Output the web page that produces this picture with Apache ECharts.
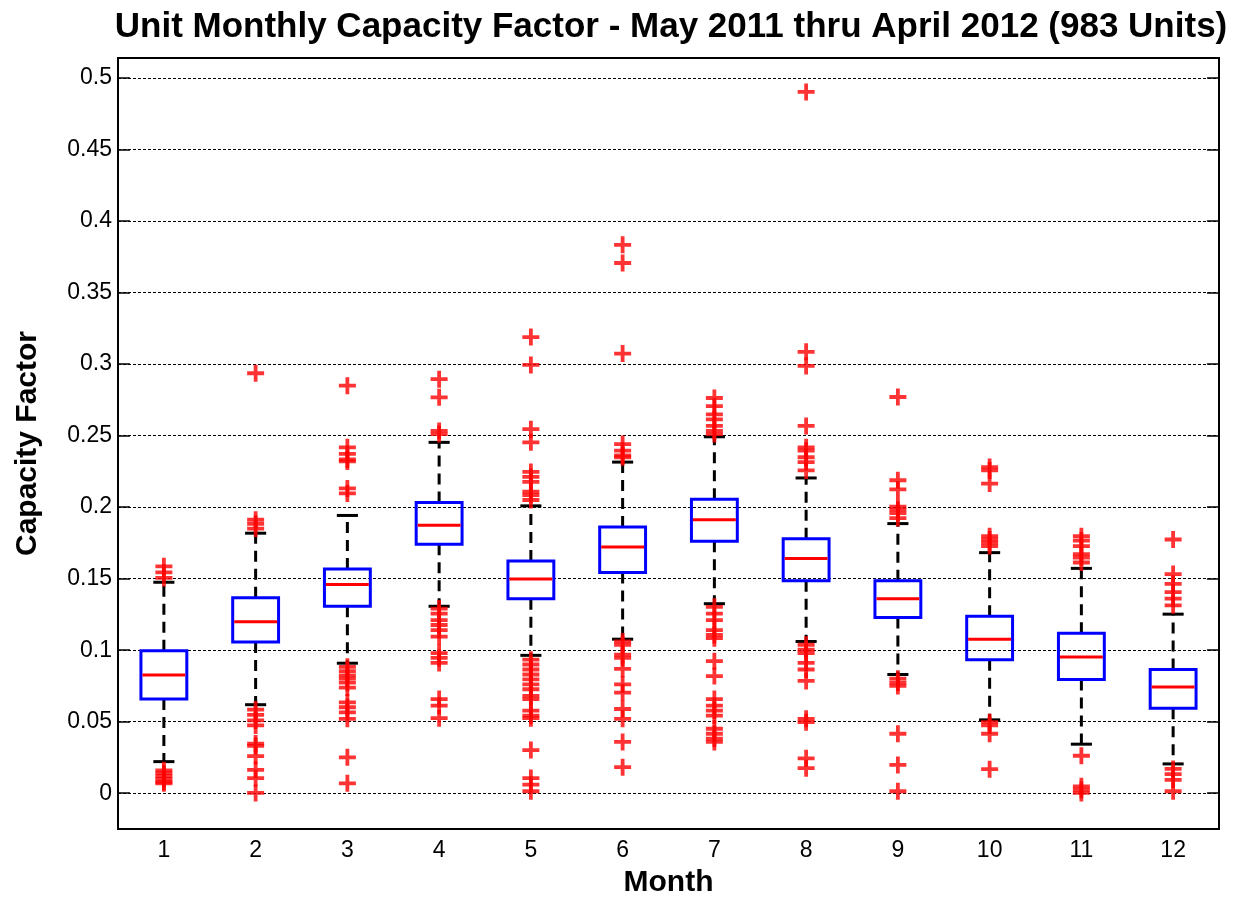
<!DOCTYPE html>
<html>
<head>
<meta charset="utf-8">
<script src="https://cdn.jsdelivr.net/npm/echarts@6/dist/echarts.min.js"></script>
<style>
html,body{margin:0;padding:0;background:#fff;}
#chart{width:1247px;height:903px;}
</style>
</head>
<body>
<div id="chart"></div>
<script>
// ---- data ----
var months = ['1','2','3','4','5','6','7','8','9','10','11','12'];
var lowerWhisker = [0.0221, 0.0619, 0.0909, 0.1307, 0.0964, 0.1077, 0.1325, 0.1061, 0.0830, 0.0513, 0.0343, 0.0205];
var q1           = [0.0658, 0.1058, 0.1307, 0.1740, 0.1360, 0.1544, 0.1762, 0.1486, 0.1229, 0.0934, 0.0796, 0.0594];
var medians      = [0.0826, 0.1199, 0.1459, 0.1873, 0.1498, 0.1721, 0.1912, 0.1641, 0.1360, 0.1077, 0.0953, 0.0743];
var q3           = [0.0996, 0.1367, 0.1567, 0.2032, 0.1624, 0.1862, 0.2055, 0.1779, 0.1486, 0.1238, 0.1118, 0.0865];
var upperWhisker = [0.1475, 0.1818, 0.1942, 0.2453, 0.2009, 0.2315, 0.2492, 0.2204, 0.1885, 0.1682, 0.1572, 0.1252];
var outliers = [
  [0.1586, 0.1544, 0.1505, 0.016, 0.014, 0.012, 0.010, 0.008, 0.007],
  [0.2936, 0.1912, 0.1883, 0.1850, 0.0585, 0.0548, 0.0509, 0.0474, 0.0347, 0.0331, 0.0260, 0.0164, 0.0106, 0.0002],
  [0.2849, 0.2418, 0.2372, 0.2333, 0.2320, 0.2131, 0.2096, 0.0884, 0.0854, 0.0824, 0.0801, 0.0773, 0.0739, 0.0635, 0.0601, 0.0566, 0.0520, 0.0251, 0.0069],
  [0.2895, 0.2768, 0.2533, 0.2511, 0.1291, 0.1256, 0.1210, 0.1176, 0.1141, 0.1095, 0.0980, 0.0946, 0.0911, 0.0658, 0.0612, 0.0525],
  [0.3189, 0.2994, 0.2545, 0.2453, 0.2246, 0.2211, 0.2177, 0.2108, 0.2085, 0.2050, 0.0934, 0.0900, 0.0865, 0.0830, 0.0796, 0.0761, 0.0727, 0.0681, 0.0658, 0.0578, 0.0543, 0.0525, 0.0302, 0.0106, 0.0060, 0.0014],
  [0.3834, 0.3707, 0.3074, 0.2441, 0.2395, 0.2361, 0.2349, 0.1061, 0.1038, 0.0969, 0.0946, 0.0870, 0.0761, 0.0704, 0.0589, 0.0520, 0.0359, 0.0182],
  [0.2763, 0.2706, 0.2649, 0.2614, 0.2568, 0.2533, 0.2511, 0.1303, 0.1256, 0.1210, 0.1141, 0.1107, 0.1084, 0.0923, 0.0819, 0.0658, 0.0612, 0.0578, 0.0543, 0.0451, 0.0416, 0.0382, 0.0359],
  [0.4903, 0.3086, 0.2987, 0.2568, 0.2418, 0.2395, 0.2349, 0.2315, 0.2257, 0.1038, 0.1003, 0.0980, 0.0911, 0.0865, 0.0785, 0.0520, 0.0497, 0.0244, 0.0175],
  [0.2770, 0.2188, 0.2124, 0.2004, 0.1981, 0.1958, 0.1924, 0.0801, 0.0773, 0.0750, 0.0416, 0.0198, 0.0014],
  [0.2280, 0.2257, 0.2165, 0.1797, 0.1774, 0.1751, 0.1728, 0.0497, 0.0474, 0.0416, 0.0168],
  [0.1797, 0.1767, 0.1728, 0.1671, 0.1648, 0.1613, 0.0262, 0.0048, 0.0025, 0.0002],
  [0.1774, 0.1532, 0.1464, 0.1406, 0.1360, 0.1314, 0.0170, 0.0133, 0.0094, 0.0014]
];
var yTicks = ['0','0.05','0.1','0.15','0.2','0.25','0.3','0.35','0.4','0.45','0.5'];

// ---- build series data ----
var boxData = months.map(function (m, i) {
  return [i, lowerWhisker[i], q1[i], medians[i], q3[i], upperWhisker[i]];
});
var outlierData = [];
outliers.forEach(function (arr, i) {
  arr.forEach(function (v) { outlierData.push([i, v]); });
});

var FONT = "'Liberation Sans', Arial, Helvetica, sans-serif";
var plusPath = 'path://M0,6.6H6.6V0H10.4V6.6H17V10.4H10.4V17H6.6V10.4H0Z';

function renderBox(params, api) {
  var idx = api.value(0);
  var lo = api.coord([idx, api.value(1)]);
  var b1 = api.coord([idx, api.value(2)]);
  var md = api.coord([idx, api.value(3)]);
  var b3 = api.coord([idx, api.value(4)]);
  var hi = api.coord([idx, api.value(5)]);
  var band = api.size([1, 0])[0];
  var bw = band * 0.5;
  var cw = band * 0.23;
  var x = lo[0];
  var dash = {stroke: '#000', lineWidth: 3, lineDash: [11, 7]};
  var solidBlack = {stroke: '#000', lineWidth: 3};
  return {
    type: 'group',
    children: [
      {type: 'line', shape: {x1: x, y1: b3[1], x2: x, y2: hi[1]}, style: dash},
      {type: 'line', shape: {x1: x, y1: b1[1], x2: x, y2: lo[1]}, style: dash},
      {type: 'line', shape: {x1: x - cw / 2, y1: hi[1], x2: x + cw / 2, y2: hi[1]}, style: solidBlack},
      {type: 'line', shape: {x1: x - cw / 2, y1: lo[1], x2: x + cw / 2, y2: lo[1]}, style: solidBlack},
      {type: 'rect', shape: {x: x - bw / 2, y: b3[1], width: bw, height: b1[1] - b3[1]},
        style: {fill: 'none', stroke: '#0000FF', lineWidth: 3}},
      {type: 'line', shape: {x1: x - bw / 2 + 1.5, y1: md[1], x2: x + bw / 2 - 1.5, y2: md[1]},
        style: {stroke: '#FF0000', lineWidth: 3}}
    ]
  };
}

var chart = echarts.init(document.getElementById('chart'), null, {renderer: 'canvas'});
var yAxisCommon = {
  type: 'value',
  min: -0.025,
  max: 0.514,
  splitNumber: 10,
  minInterval: 0.05,
  maxInterval: 0.05
};
chart.setOption({
  animation: false,
  backgroundColor: '#fff',
  title: {
    text: 'Unit Monthly Capacity Factor - May 2011 thru April 2012 (983 Units)',
    left: 666,
    textAlign: 'center',
    top: 5,
    textStyle: {fontFamily: FONT, fontSize: 35, fontWeight: 'bold', color: '#000'}
  },
  grid: {
    left: 118, top: 58, width: 1101, height: 780,
    show: true, borderColor: '#000', borderWidth: 2, backgroundColor: 'transparent'
  },
  xAxis: {
    type: 'category',
    data: months,
    boundaryGap: true,
    name: 'Month',
    nameLocation: 'middle',
    nameGap: 39,
    nameTextStyle: {fontFamily: FONT, fontSize: 30, fontWeight: 'bold', color: '#000'},
    axisLine: {show: true, onZero: false, lineStyle: {color: '#000', width: 2}},
    axisTick: {show: false},
    axisLabel: {fontFamily: FONT, fontSize: 23, color: '#000', margin: 10},
    splitLine: {show: false}
  },
  yAxis: [
    Object.assign({}, yAxisCommon, {
      position: 'left',
      name: 'Capacity Factor',
      nameLocation: 'middle',
      nameGap: 75,
      nameTextStyle: {fontFamily: FONT, fontSize: 30, fontWeight: 'bold', color: '#000'},
      axisLine: {show: true, onZero: false, lineStyle: {color: '#000', width: 2}},
      axisTick: {show: true, inside: true, length: 12, lineStyle: {color: '#000', width: 1.5}},
      axisLabel: {
        fontFamily: FONT, fontSize: 23, color: '#000', margin: 6,
        showMinLabel: false, showMaxLabel: false,
        formatter: function (v) {
          var s = String(Math.round(v * 1000) / 1000);
          return yTicks.indexOf(s) >= 0 ? s : '';
        }
      },
      splitLine: {show: true, lineStyle: {color: '#000', width: 1, type: [3, 2]}}
    }),
    Object.assign({}, yAxisCommon, {
      position: 'right',
      axisLine: {show: true, onZero: false, lineStyle: {color: '#000', width: 2}},
      axisTick: {show: true, inside: true, length: 12, lineStyle: {color: '#000', width: 1.5}},
      axisLabel: {show: false},
      splitLine: {show: false}
    })
  ],
  series: [
    {
      type: 'custom',
      name: 'box',
      renderItem: renderBox,
      data: boxData,
      encode: {x: 0, y: [1, 2, 3, 4, 5]},
      clip: false,
      z: 2
    },
    {
      type: 'scatter',
      name: 'outliers',
      data: outlierData,
      symbol: plusPath,
      symbolSize: 17,
      itemStyle: {color: '#FF0000'},
      z: 3,
      clip: false
    }
  ]
});
</script>
</body>
</html>
